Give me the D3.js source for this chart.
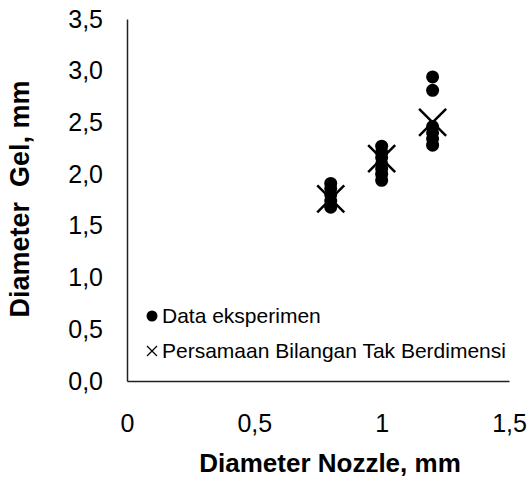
<!DOCTYPE html>
<html>
<head>
<meta charset="utf-8">
<script src="https://cdn.jsdelivr.net/npm/d3@7"></script>
<style>
body { margin: 0; background: #fff; }
svg { display: block; font-family: "Liberation Sans", Arial, sans-serif; }
</style>
</head>
<body>
<svg id="chart" width="529" height="477"></svg>
<script>
const xTicks = [0, 0.5, 1, 1.5];
const yTicks = [0, 0.5, 1, 1.5, 2, 2.5, 3, 3.5];
const expX = [0.8, 0.8, 0.8, 0.8, 0.8, 1.0, 1.0, 1.0, 1.0, 1.0, 1.0, 1.0, 1.2, 1.2, 1.2, 1.2, 1.2, 1.2];
const expY = [1.68, 1.74, 1.80, 1.86, 1.91, 1.94, 2.00, 2.05, 2.10, 2.16, 2.21, 2.27, 2.28, 2.34, 2.40, 2.46, 2.81, 2.94];
const predX = [0.8, 1.0, 1.2];
const predY = [1.76, 2.15, 2.50];
const legendLabels = ["Data eksperimen", "Persamaan Bilangan Tak Berdimensi"];
const xTitle = "Diameter Nozzle, mm";
const yTitle = "Diameter  Gel, mm";

const fmt = d => (d === 0 || d === 1 ? String(d) : d3.format(".1f")(d)).replace(".", ",");
const fmtY = d => d3.format(".1f")(d).replace(".", ",");

const svg = d3.select("#chart");
const mL = 127, mR = 509, mT = 19, mB = 381;
const x = d3.scaleLinear().domain([0, 1.5]).range([mL, mR]);
const y = d3.scaleLinear().domain([0, 3.5]).range([mB, mT]);

// axes
const xAxis = svg.append("g").attr("transform", `translate(0,${mB})`)
  .call(d3.axisBottom(x).tickValues(xTicks).tickSize(0).tickPadding(32).tickFormat(fmt));
const yAxis = svg.append("g").attr("transform", `translate(${mL},0)`)
  .call(d3.axisLeft(y).tickValues(yTicks).tickSize(0).tickPadding(24).tickFormat(fmtY));
[xAxis, yAxis].forEach(a => {
  a.select(".domain").attr("stroke", "#222").attr("stroke-width", 1.5);
  a.selectAll("text").attr("font-size", 25).attr("fill", "#000")
    .attr("font-family", "'Liberation Sans', Arial, sans-serif");
});
xAxis.selectAll("text").attr("dy", "0.35em").attr("y", 42);

// data points
svg.append("g").selectAll("circle").data(expY).join("circle")
  .attr("cx", (d, i) => x(expX[i])).attr("cy", d => y(d)).attr("r", 6.5).attr("fill", "#000");

const cross = (g, cx, cy, h, sw) => {
  g.append("path").attr("d", `M${cx-h},${cy-h}L${cx+h},${cy+h}M${cx-h},${cy+h}L${cx+h},${cy-h}`)
    .attr("stroke", "#000").attr("stroke-width", sw).attr("fill", "none");
};
const pg = svg.append("g");
predY.forEach((d, i) => cross(pg, x(predX[i]), y(d), 13.5, 2.5));

// legend
const lg = svg.append("g");
lg.append("circle").attr("cx", 152).attr("cy", 316).attr("r", 5.5).attr("fill", "#000");
cross(lg, 152, 351, 5, 1.3);
lg.selectAll("text").data(legendLabels).join("text")
  .attr("x", 162).attr("y", (d, i) => 316 + i * 35).attr("dy", "0.35em")
  .attr("font-size", 21).attr("fill", "#000").text(d => d);

// titles
svg.append("text").attr("x", 330).attr("y", 463).attr("dy", "0.35em")
  .attr("text-anchor", "middle").attr("font-size", 26).attr("font-weight", "bold").text(xTitle);
svg.append("text").attr("transform", `translate(20,199) rotate(-90)`).attr("dy", "0.35em")
  .attr("text-anchor", "middle").attr("font-size", 27).attr("font-weight", "bold")
  .style("white-space", "pre").text(yTitle);
</script>
</body>
</html>
